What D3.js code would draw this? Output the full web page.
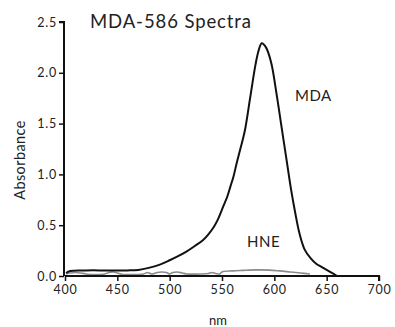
<!DOCTYPE html>
<html><head><meta charset="utf-8">
<script src="https://cdn.jsdelivr.net/npm/d3@7"></script>
<style>body{margin:0;background:#fff;} text{font-family:"Lato",sans-serif;fill:#222;}</style>
</head><body><svg id="c" width="395" height="327"></svg>
<script>
const mdaNm  = [401,405,420,440,460,470,480,490,500,508,516,524,532,537,542,546,551,555,558,561,564,569,572,577,582,585,588,592,597,602,607,612,616,620,624,629,635,640,645,650,655,660];
const mdaAbs = [0.03,0.05,0.055,0.055,0.055,0.06,0.08,0.11,0.155,0.195,0.24,0.295,0.355,0.41,0.48,0.555,0.68,0.78,0.88,0.98,1.11,1.31,1.44,1.76,2.08,2.22,2.29,2.25,2.10,1.80,1.46,1.12,0.85,0.62,0.42,0.26,0.17,0.12,0.09,0.06,0.03,0.0];
const hneNm  = [401,405,410,415,420,430,438,442,446,450,455,465,475,479,483,488,492,497,500,503,507,512,516,530,537,540,544,548,550,560,570,583,595,605,615,625,634];
const hneAbs = [0.02,0.03,0.035,0.03,0.02,0.015,0.02,0.035,0.04,0.03,0.015,0.015,0.02,0.035,0.02,0.035,0.04,0.035,0.02,0.035,0.04,0.03,0.02,0.02,0.025,0.035,0.025,0.02,0.04,0.05,0.055,0.06,0.058,0.05,0.04,0.03,0.02];
const xTicks = [400,450,500,550,600,650,700];
const yTicks = [0.0,0.5,1.0,1.5,2.0,2.5];

const svg = d3.select("#c");
const m = {l:64, t:22, r:16, b:51};
const W = 395 - m.l - m.r, H = 327 - m.t - m.b;
const x = d3.scaleLinear().domain([400,700]).range([m.l+1, m.l+W]);
const y = d3.scaleLinear().domain([0,2.5]).range([m.t+H, m.t]);

const line = d3.line().x(d=>x(d[0])).y(d=>y(d[1])).curve(d3.curveCatmullRom.alpha(0.5));
svg.append("path").datum(d3.zip(hneNm,hneAbs)).attr("d",line).attr("fill","none").attr("stroke","#8a8a8a").attr("stroke-width",1.6);
svg.append("path").datum(d3.zip(mdaNm,mdaAbs)).attr("d",line).attr("fill","none").attr("stroke","#111").attr("stroke-width",2);

const xa = svg.append("g").attr("transform",`translate(0,${m.t+H})`)
  .call(d3.axisBottom(x).tickValues(xTicks).tickSize(5).tickPadding(4).tickFormat(d3.format("d")));
const ya = svg.append("g").attr("transform",`translate(${m.l},0)`)
  .call(d3.axisLeft(y).tickValues(yTicks).tickSize(5).tickPadding(2).tickFormat(d3.format(".1f")));
[xa,ya].forEach(a=>{
  a.select(".domain").attr("stroke","#111").attr("stroke-width",2);
  a.selectAll(".tick line").attr("stroke","#111").attr("stroke-width",1.5);
  a.selectAll(".tick text").style("font-size","12.5px").style("letter-spacing","0.8px").attr("fill","#222");
});
ya.select(".domain").attr("d",`M-5,${y(2.5)}H0V${y(0)}`);
xa.select(".domain").attr("d",`M${x(400)},0H${x(700)}V5`);

svg.append("text").attr("x",90).attr("y",28).style("font-size","18.5px").style("letter-spacing","0.9px").text("MDA-586 Spectra");
svg.append("text").attr("transform","translate(25,160) rotate(-90)").attr("text-anchor","middle").style("font-size","14.5px").style("letter-spacing","0.4px").text("Absorbance");
svg.append("text").attr("x",218).attr("y",325).attr("text-anchor","middle").style("font-size","13px").text("nm");
svg.append("text").attr("x",295).attr("y",101).style("font-size","15px").style("letter-spacing","0.5px").text("MDA");
svg.append("text").attr("x",247).attr("y",247).style("font-size","15px").style("letter-spacing","0.5px").text("HNE");
</script></body></html>
